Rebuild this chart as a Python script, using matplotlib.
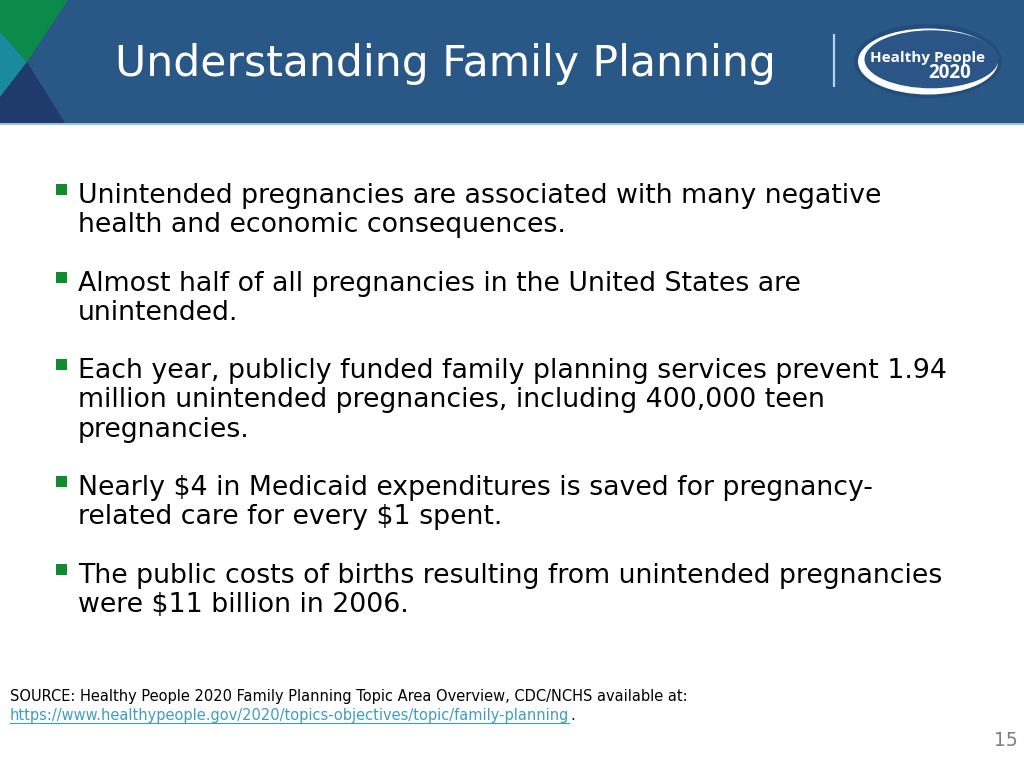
import matplotlib
matplotlib.use("Agg")
import matplotlib.pyplot as plt
from matplotlib.patches import Polygon, Rectangle, Ellipse

title = "Understanding Family Planning"
logo_line1 = "Healthy People"
logo_line2 = "2020"
bullets = [
    ["Unintended pregnancies are associated with many negative",
     "health and economic consequences."],
    ["Almost half of all pregnancies in the United States are",
     "unintended."],
    ["Each year, publicly funded family planning services prevent 1.94",
     "million unintended pregnancies, including 400,000 teen",
     "pregnancies."],
    ["Nearly $4 in Medicaid expenditures is saved for pregnancy-",
     "related care for every $1 spent."],
    ["The public costs of births resulting from unintended pregnancies",
     "were $11 billion in 2006."],
]
source_text = "SOURCE: Healthy People 2020 Family Planning Topic Area Overview, CDC/NCHS available at:"
source_url = "https://www.healthypeople.gov/2020/topics-objectives/topic/family-planning"
page_num = "15"

W, H = 1024, 768
fig = plt.figure(figsize=(W / 100, H / 100), dpi=100)
ax = fig.add_axes([0, 0, 1, 1])
ax.set_xlim(0, W)
ax.set_ylim(H, 0)
ax.axis("off")
fig.patch.set_facecolor("white")

HEADER = "#2a5886"
# header band
ax.add_patch(Rectangle((0, 0), W, 123, facecolor=HEADER, edgecolor="none"))
ax.add_patch(Rectangle((0, 123), W, 1.6, facecolor="#9cc3d8", edgecolor="none"))
# corner decoration
ax.add_patch(Polygon([(0, 0), (68, 0), (27, 62), (0, 32)], closed=True,
                     facecolor="#0b8a4a", edgecolor="none"))
ax.add_patch(Polygon([(0, 32), (27, 62), (0, 97)], closed=True,
                     facecolor="#1a8b9f", edgecolor="none"))
ax.add_patch(Polygon([(0, 97), (27, 62), (65, 123), (0, 123)], closed=True,
                     facecolor="#1f3a6c", edgecolor="none"))

ax.text(115, 76, title, color="white", fontsize=30.6, family="DejaVu Sans",
        va="baseline", ha="left")

# separator
ax.plot([834, 834], [34, 87], color="#b5d3ee", lw=1.6, solid_capstyle="butt")

# logo
ax.add_patch(Ellipse((928, 61), 148, 74, facecolor="#234d7b", edgecolor="none"))
ax.add_patch(Ellipse((928, 61.5), 140, 66, facecolor="white", edgecolor="none"))
ax.add_patch(Ellipse((931.5, 59.3), 134, 58, facecolor="#2a5586", edgecolor="none"))
ax.text(927, 62, logo_line1, color="white", fontsize=11, fontweight="bold",
        family="Open Sans", ha="center", va="baseline")
ax.text(950, 78.5, logo_line2, color="white", fontsize=13.5, fontweight="bold",
        family="Open Sans", ha="center", va="baseline")

# bullets
first_baselines = [203, 291, 378, 495, 583]
line_gap = 29.3
for lines, b0 in zip(bullets, first_baselines):
    ax.add_patch(Rectangle((56, b0 - 19), 11, 11, facecolor="#128a2e",
                           edgecolor="none"))
    for i, ln in enumerate(lines):
        ax.text(78, b0 + i * line_gap, ln, color="black", fontsize=19.25,
                family="DejaVu Sans", va="baseline", ha="left")

# source
ax.text(10, 700.5, source_text, color="black", fontsize=10.5,
        family="DejaVu Sans", va="baseline", ha="left")
url_t = ax.text(10, 720, source_url, color="#3f9dbf", fontsize=10.55,
                family="DejaVu Sans", va="baseline", ha="left")
fig.canvas.draw()
r = fig.canvas.get_renderer()
bb = url_t.get_window_extent(r)
inv = ax.transData.inverted()
x1 = inv.transform((bb.x1, bb.y0))[0]
ax.plot([10, x1], [722.5, 722.5], color="#3f9dbf", lw=0.8)
ax.text(x1 + 0.5, 720, ".", color="black", fontsize=10.5,
        family="DejaVu Sans", va="baseline", ha="left")

ax.text(1018, 746, page_num, color="#7f7f7f", fontsize=13.5,
        family="DejaVu Sans", va="baseline", ha="right")

fig.savefig("out.png", dpi=100, facecolor="white")
